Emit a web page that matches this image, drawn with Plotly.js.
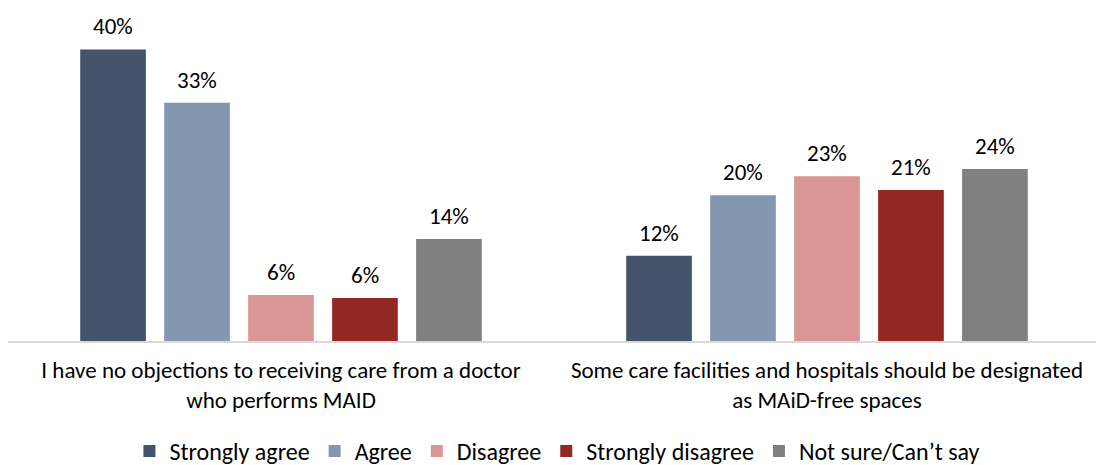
<!DOCTYPE html>
<html>
<head>
<meta charset="utf-8">
<script src="https://cdn.plot.ly/plotly-3.0.1.min.js"></script>
<style>html,body{margin:0;padding:0;background:#fff;overflow:hidden;}#wrap{width:1097px;height:465px;overflow:hidden;}#chart{width:1097px;height:474px;}</style>
</head>
<body>
<div id="wrap"><div id="chart"></div></div>
<script>
const categories = [
  "I have no objections to receiving care from a doctor<br>who performs MAID",
  "Some care facilities and hospitals should be designated<br>as MAiD-free spaces"
];
const seriesNames = ["Strongly agree", "Agree", "Disagree", "Strongly disagree", "Not sure/Can\u2019t say"];
const stronglyAgree = [40.0, 11.7];
const agree = [32.7, 20.0];
const disagree = [6.3, 22.6];
const stronglyDisagree = [5.9, 20.7];
const notSure = [14.0, 23.6];
const stronglyAgreeLabels = ["40%", "12%"];
const agreeLabels = ["33%", "20%"];
const disagreeLabels = ["6%", "23%"];
const stronglyDisagreeLabels = ["6%", "21%"];
const notSureLabels = ["14%", "24%"];

const colors = ["#44546A", "#8497B0", "#DA9694", "#932721", "#808080"];
const values = [stronglyAgree, agree, disagree, stronglyDisagree, notSure];
const labels = [stronglyAgreeLabels, agreeLabels, disagreeLabels, stronglyDisagreeLabels, notSureLabels];

const FONT = "Carlito, Calibri, Lato, sans-serif";
const FS = 23;
const bargap = 0.231;
const nS = values.length;
const slot = (1 - bargap) / nS;

const traces = values.map((v, i) => ({
  type: "bar",
  name: seriesNames[i],
  x: categories,
  y: v,
  marker: {color: colors[i]},
  hoverinfo: "skip"
}));

const annotations = [];
values.forEach((v, i) => {
  v.forEach((val, j) => {
    annotations.push({
      x: j + (i - (nS - 1) / 2) * slot,
      y: val,
      xref: "x", yref: "y",
      text: labels[i][j],
      showarrow: false,
      yanchor: "bottom",
      yshift: 7,
      font: {family: FONT, size: FS, color: "#000000"}
    });
  });
});

const layout = {
  width: 1097, height: 474,
  margin: {l: 8, r: 1, t: 0, b: 133, autoexpand: false},
  paper_bgcolor: "#ffffff", plot_bgcolor: "#ffffff",
  barmode: "group",
  bargap: bargap,
  bargroupgap: 0.218,
  font: {family: FONT, size: FS, color: "#000000"},
  xaxis: {
    type: "category",
    range: [-0.5, 1.4927],
    showline: true, linecolor: "#D9D9D9", linewidth: 1.5,
    ticks: "", showgrid: false, zeroline: false,
    ticklabelstandoff: 8,
    tickfont: {family: FONT, size: FS, color: "#000000"}
  },
  yaxis: {
    range: [0, 46.78],
    visible: false, showgrid: false, zeroline: false
  },
  showlegend: true,
  legend: {
    orientation: "h",
    x: 0.505, xanchor: "center",
    yref: "container", y: 0, yanchor: "bottom",
    font: {family: FONT, size: 24, color: "#000000"},
    itemwidth: 30,
    traceorder: "normal"
  },
  annotations: annotations
};

Plotly.newPlot("chart", traces, layout, {displayModeBar: false, staticPlot: true});
</script>
</body>
</html>
